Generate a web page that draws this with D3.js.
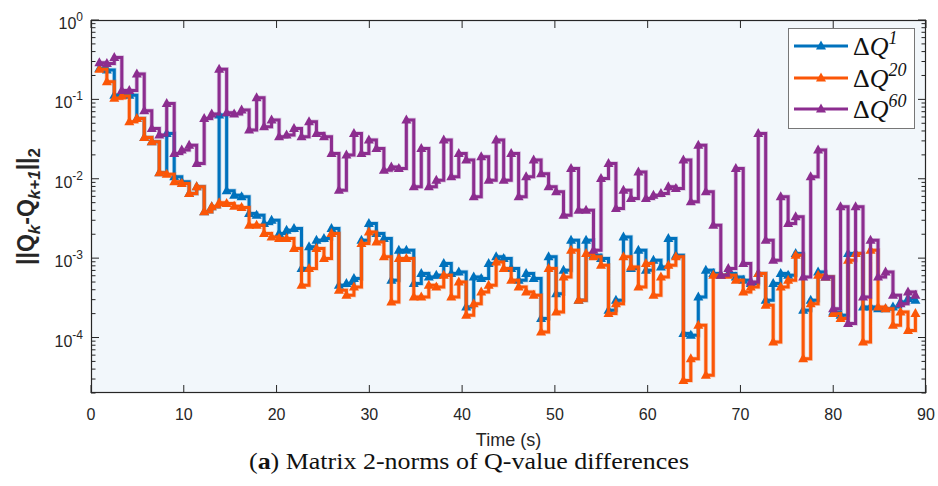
<!DOCTYPE html>
<html>
<head>
<meta charset="utf-8">
<script src="https://cdn.jsdelivr.net/npm/d3@7"></script>
<style>
  body { margin: 0; background: #ffffff; }
  svg { display: block; }
</style>
</head>
<body>
<div id="chart"></div>
<script>
// Matrix 2-norms of Q-value differences (stairs, log y)

// sample times (s), one per step
const time = [
  0.90, 1.71, 2.51, 3.32, 4.13, 4.94, 5.74, 6.55, 7.36, 8.16,
  8.97, 9.78, 10.58, 11.39, 12.20, 13.01, 13.81, 14.62, 15.43, 16.23,
  17.04, 17.85, 18.65, 19.46, 20.27, 21.08, 21.88, 22.69, 23.50, 24.30,
  25.11, 25.92, 26.72, 27.53, 28.34, 29.15, 29.95, 30.76, 31.57, 32.37,
  33.18, 33.99, 34.79, 35.60, 36.41, 37.22, 38.02, 38.83, 39.64, 40.44,
  41.25, 42.06, 42.86, 43.67, 44.48, 45.29, 46.09, 46.90, 47.71, 48.51,
  49.32, 50.13, 50.93, 51.74, 52.55, 53.36, 54.16, 54.97, 55.78, 56.58,
  57.39, 58.20, 59.00, 59.81, 60.62, 61.43, 62.23, 63.04, 63.85, 64.65,
  65.46, 66.27, 67.07, 67.88, 68.69, 69.50, 70.30, 71.11, 71.92, 72.72,
  73.53, 74.34, 75.14, 75.95, 76.76, 77.57, 78.37, 79.18, 79.99, 80.79,
  81.60, 82.41, 83.21, 84.02, 84.83, 85.64, 86.44, 87.25, 88.06, 88.86
];

const dQ1 = [
  0.245, 0.234, 0.113, 0.113, 0.113, 0.0575, 0.0331, 0.0292, 0.0119, 0.0372,
  0.0106, 0.00915, 0.00652, 0.00791, 0.00383, 0.00443, 0.0634, 0.00704, 0.00621, 0.00592,
  0.00365, 0.00348, 0.00273, 0.00301, 0.00204, 0.00225, 0.00236, 0.000738, 0.00139, 0.00168,
  0.00177, 0.00236, 0.000455, 0.000478, 0.000552, 0.00168, 0.00273, 0.00204, 0.00177, 0.000526,
  0.00126, 0.00126, 0.000478, 0.000639, 0.000580, 0.000608, 0.000855, 0.000639, 0.000670, 0.000243,
  0.000580, 0.000552, 0.000855, 0.00104, 0.000988, 0.000738, 0.000526, 0.000639, 0.000552, 0.000173,
  0.00104, 0.000357, 0.000703, 0.00168, 0.000294, 0.00168, 0.00109, 0.000988, 0.000220, 0.000294,
  0.00185, 0.000738, 0.00126, 0.000703, 0.000942, 0.000775, 0.00177, 0.00109, 0.000112, 0.000107,
  0.000324, 0.000703, 0.000639, 0.000608, 0.000639, 0.000580, 0.000526, 0.000478, 0.000639, 0.000294,
  0.000478, 0.000639, 0.000608, 0.00114, 0.000220, 0.000294, 0.000670, 0.000580, 0.000210, 0.000191,
  0.00114, 0.00114, 0.000243, 0.000243, 0.000231, 0.000231, 0.000243, 0.000281, 0.000309, 0.000294
];

const dQ20 = [
  0.239, 0.167, 0.103, 0.110, 0.0522, 0.0575, 0.0331, 0.0292, 0.0119, 0.0114,
  0.00915, 0.00871, 0.00652, 0.00791, 0.00383, 0.00443, 0.00498, 0.00488, 0.00451, 0.00434,
  0.00260, 0.00260, 0.00204, 0.00185, 0.00177, 0.00177, 0.00132, 0.000455, 0.000738, 0.00132,
  0.000988, 0.00204, 0.000394, 0.000340, 0.000434, 0.00153, 0.00214, 0.00160, 0.00104, 0.000281,
  0.000988, 0.000988, 0.000324, 0.000324, 0.000455, 0.000434, 0.000608, 0.000324, 0.000501, 0.000191,
  0.000267, 0.000375, 0.000455, 0.000897, 0.000738, 0.000526, 0.000434, 0.000375, 0.000340, 0.000117,
  0.000738, 0.000210, 0.000580, 0.00126, 0.000294, 0.00114, 0.00104, 0.000813, 0.000200, 0.000267,
  0.00104, 0.000775, 0.000434, 0.000855, 0.000340, 0.000580, 0.000813, 0.00104, 0.0000288, 0.0000541,
  0.000143, 0.0000334, 0.000608, 0.000608, 0.000608, 0.000526, 0.000375, 0.000434, 0.000639, 0.000255,
  0.0000879, 0.000434, 0.000526, 0.00109, 0.0000541, 0.000267, 0.000608, 0.000580, 0.000200, 0.000173,
  0.000942, 0.00114, 0.0000879, 0.00126, 0.000243, 0.000231, 0.000143, 0.000210, 0.000123, 0.000200
];

const dQ60 = [
  0.290, 0.284, 0.338, 0.129, 0.129, 0.209, 0.0719, 0.0431, 0.0355, 0.0890,
  0.0208, 0.0230, 0.0265, 0.0156, 0.0575, 0.0653, 0.239, 0.0678, 0.0653, 0.0733,
  0.0410, 0.105, 0.0452, 0.0548, 0.0338, 0.0355, 0.0431, 0.0338, 0.0522, 0.0372,
  0.0338, 0.0208, 0.00718, 0.0199, 0.0372, 0.0208, 0.0307, 0.0241, 0.0128, 0.0141,
  0.0135, 0.0548, 0.00791, 0.0241, 0.00791, 0.00960, 0.0307, 0.0106, 0.0208, 0.0172,
  0.00592, 0.0189, 0.00960, 0.0307, 0.00960, 0.0208, 0.00592, 0.0106, 0.0172, 0.0116,
  0.00791, 0.00685, 0.00348, 0.0135, 0.00402, 0.00402, 0.00126, 0.0101, 0.0156, 0.00422,
  0.00718, 0.00564, 0.0122, 0.00564, 0.00621, 0.00652, 0.00791, 0.00754, 0.0172, 0.00512,
  0.0265, 0.00685, 0.00260, 0.000608, 0.000738, 0.0135, 0.000855, 0.000501, 0.0372, 0.00168,
  0.000942, 0.00592, 0.00273, 0.00331, 0.000580, 0.0106, 0.0230, 0.000580, 0.000231, 0.00443,
  0.000150, 0.00443, 0.000324, 0.00168, 0.000580, 0.000670, 0.000340, 0.000267, 0.000375, 0.000340
];

const seriesNames = ["1", "20", "60"];
const seriesColors = ["#0072BD", "#FB5607", "#8C2D8F"];
const xTicks = [0, 10, 20, 30, 40, 50, 60, 70, 80, 90];
const yExponents = [0, -1, -2, -3, -4];

const width = 938, height = 486;
const margin = { top: 20, right: 12, bottom: 93, left: 91 };
const axisColor = "#262626";

const svg = d3.select("#chart").append("svg")
  .attr("width", width)
  .attr("height", height)
  .attr("viewBox", [0, 0, width, height]);

const x = d3.scaleLinear().domain([0, 90]).range([margin.left, width - margin.right]);
const y = d3.scaleLog().domain([2e-5, 1]).range([height - margin.bottom, margin.top]);

const plotW = x.range()[1] - x.range()[0];
const plotH = y.range()[0] - y.range()[1];

// plot background
svg.append("rect")
  .attr("x", margin.left).attr("y", margin.top)
  .attr("width", plotW).attr("height", plotH)
  .attr("fill", "#F2F7FB");

// clip for the lines
svg.append("clipPath").attr("id", "plot-clip")
  .append("rect")
  .attr("x", margin.left).attr("y", margin.top)
  .attr("width", plotW).attr("height", plotH);

// ticks, drawn inward on all four sides
const tickG = svg.append("g").attr("stroke", axisColor).attr("stroke-width", 1);
const x0 = x.range()[0], x1 = x.range()[1];
const yb = y.range()[0], yt = y.range()[1];

xTicks.forEach(t => {
  tickG.append("line").attr("x1", x(t)).attr("x2", x(t)).attr("y1", yb).attr("y2", yb - 8);
  tickG.append("line").attr("x1", x(t)).attr("x2", x(t)).attr("y1", yt).attr("y2", yt + 8);
});

const minorVals = [];
for (let e = -5; e < 0; e++) {
  for (let m = 2; m <= 9; m++) {
    const v = m * Math.pow(10, e);
    if (v >= 2e-5 && v < 1) minorVals.push(v);
  }
}
minorVals.forEach(v => {
  tickG.append("line").attr("x1", x0).attr("x2", x0 + 4.5).attr("y1", y(v)).attr("y2", y(v));
  tickG.append("line").attr("x1", x1).attr("x2", x1 - 4.5).attr("y1", y(v)).attr("y2", y(v));
});
yExponents.forEach(e => {
  const v = Math.pow(10, e);
  tickG.append("line").attr("x1", x0).attr("x2", x0 + 8).attr("y1", y(v)).attr("y2", y(v));
  tickG.append("line").attr("x1", x1).attr("x2", x1 - 8).attr("y1", y(v)).attr("y2", y(v));
});

// box
svg.append("rect")
  .attr("x", x0 + 0.5).attr("y", yt + 0.5)
  .attr("width", plotW - 1).attr("height", plotH - 1)
  .attr("fill", "none").attr("stroke", axisColor).attr("stroke-width", 1.2);

// x tick labels
svg.append("g")
  .selectAll("text")
  .data(xTicks)
  .join("text")
  .attr("x", d => x(d))
  .attr("y", yb + 27)
  .attr("text-anchor", "middle")
  .attr("font-family", "Liberation Sans, Arial, sans-serif")
  .attr("font-size", 16)
  .attr("fill", axisColor)
  .text(d => d);

// y tick labels 10^e
const yLab = svg.append("g")
  .selectAll("text")
  .data(yExponents)
  .join("text")
  .attr("x", x0 - 8)
  .attr("y", d => y(Math.pow(10, d)) + 9)
  .attr("text-anchor", "end")
  .attr("font-family", "Liberation Sans, Arial, sans-serif")
  .attr("font-size", 16)
  .attr("fill", axisColor);
yLab.append("tspan").text("10");
yLab.append("tspan").attr("dy", -8).attr("font-size", 12).text(d => d === 0 ? "0" : "-" + Math.abs(d));

// x axis label
svg.append("text")
  .attr("x", (x0 + x1) / 2)
  .attr("y", yb + 53)
  .attr("text-anchor", "middle")
  .attr("font-family", "Liberation Sans, Arial, sans-serif")
  .attr("font-size", 18)
  .attr("fill", axisColor)
  .text("Time (s)");

// y axis label ||Q_k - Q_{k+1}||_2
const yTitle = svg.append("text")
  .attr("transform", `translate(34,${(yt + yb) / 2}) rotate(-90)`)
  .attr("text-anchor", "middle")
  .attr("font-family", "Liberation Sans, Arial, sans-serif")
  .attr("font-weight", "bold")
  .attr("font-size", 23)
  .attr("fill", axisColor);
yTitle.append("tspan").text("||Q");
yTitle.append("tspan").attr("dy", 6).attr("font-size", 17).attr("font-style", "italic").text("k");
yTitle.append("tspan").attr("dy", -6).text("-Q");
yTitle.append("tspan").attr("dy", 6).attr("font-size", 17).attr("font-style", "italic").text("k+1");
yTitle.append("tspan").attr("dy", -6).text("||");
yTitle.append("tspan").attr("dy", 6).attr("font-size", 17).text("2");

// stairs lines
const series = [dQ1, dQ20, dQ60].map((vals, i) => ({
  name: seriesNames[i],
  color: seriesColors[i],
  points: vals.map((v, j) => ({ t: time[j], v: v }))
}));

const line = d3.line()
  .x(d => x(d.t))
  .y(d => y(d.v))
  .curve(d3.curveStepAfter);

const tri = "M0,-5.5L5,3.5L-5,3.5Z";

const plotG = svg.append("g").attr("clip-path", "url(#plot-clip)");

series.forEach(s => {
  const g = plotG.append("g");
  // soft halo like the anti-aliased original
  g.append("path")
    .datum(s.points)
    .attr("d", line)
    .attr("fill", "none")
    .attr("stroke", s.color)
    .attr("stroke-opacity", 0.25)
    .attr("stroke-width", 4.5);
  g.append("path")
    .datum(s.points)
    .attr("d", line)
    .attr("fill", "none")
    .attr("stroke", s.color)
    .attr("stroke-width", 3);
  g.selectAll("path.marker")
    .data(s.points)
    .join("path")
    .attr("class", "marker")
    .attr("d", tri)
    .attr("transform", d => `translate(${x(d.t)},${y(d.v)})`)
    .attr("fill", s.color);
});

// legend
const legend = svg.append("g").attr("transform", "translate(788,28)");
legend.append("rect")
  .attr("x", 0.5).attr("y", 0.5)
  .attr("width", 126).attr("height", 100)
  .attr("fill", "#ffffff")
  .attr("stroke", "#777777")
  .attr("stroke-width", 1);

const rowY = [18, 50, 81];
series.forEach((s, i) => {
  const row = legend.append("g").attr("transform", `translate(0,${rowY[i]})`);
  row.append("line")
    .attr("x1", 6).attr("x2", 60)
    .attr("stroke", s.color).attr("stroke-width", 3);
  row.append("path")
    .attr("d", tri)
    .attr("transform", "translate(33,0)")
    .attr("fill", s.color);
  const txt = row.append("text")
    .attr("x", 65)
    .attr("y", 9)
    .attr("font-family", "Liberation Serif, Times New Roman, serif")
    .attr("font-size", 26)
    .attr("fill", "#111111");
  txt.append("tspan").text("\u0394");
  txt.append("tspan").attr("font-style", "italic").text("Q");
  txt.append("tspan").attr("dy", -11).attr("font-size", 18).attr("font-style", "italic").text(s.name);
});

// caption
const cap = svg.append("text")
  .attr("x", width / 2)
  .attr("y", 469)
  .attr("text-anchor", "middle")
  .attr("font-family", "Liberation Serif, Times New Roman, serif")
  .attr("font-size", 23)
  .attr("textLength", 440)
  .attr("lengthAdjust", "spacingAndGlyphs")
  .attr("fill", "#111111");
cap.append("tspan").text("(");
cap.append("tspan").attr("font-weight", "bold").text("a");
cap.append("tspan").text(") Matrix 2-norms of Q-value differences");
</script>
</body>
</html>
